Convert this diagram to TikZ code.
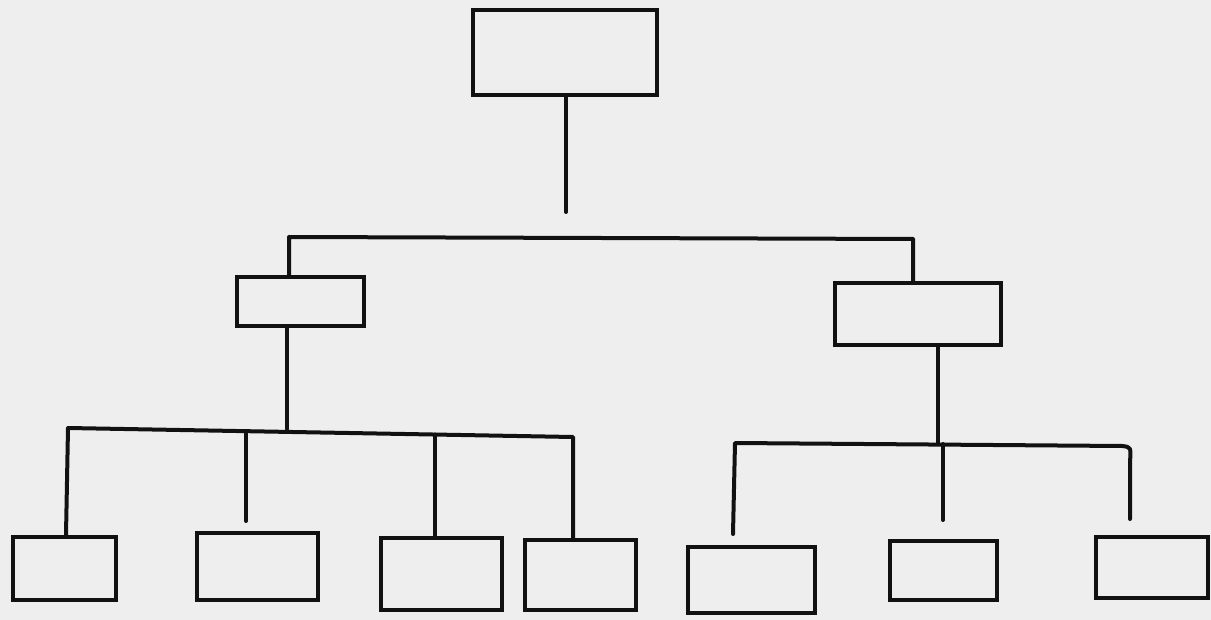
\documentclass[tikz,border=0pt]{standalone}
\usetikzlibrary{positioning}
\definecolor{paper}{HTML}{EEEEEE}
\definecolor{ink}{HTML}{111111}
\tikzset{
  card/.style  = {draw=ink, line width=2pt, fill=none, inner sep=0pt},
  wire/.style  = {draw=ink, line width=2pt, line cap=round, line join=round},
}
\begin{document}
\begin{tikzpicture}[x=0.5pt,y=-0.5pt]
  \fill[paper] (0,0) rectangle (1211,620);
  \useasboundingbox (0,0) rectangle (1211,620);
  % boxes
  \node[card,minimum width=92pt,minimum height=42.5pt] (top) at (565,52.5) {};
  \node[card,minimum width=63.5pt,minimum height=24.5pt] (midL) at (300.5,301.5) {};
  \node[card,minimum width=83pt,minimum height=31pt] (midR) at (918,314) {};
  \foreach \n/\cx/\cy/\w/\h in {l1/64.5/568.5/103/63, l2/257.5/566.5/121/67,
      l3/441.5/574/121/72, l4/580.5/575/111/70, r1/751.5/580/127/66,
      r2/943.5/570.5/107/59, r3/1152/567.5/112/61}{
    \node[card,minimum width=\w*0.5pt,minimum height=\h*0.5pt] (\n) at (\cx,\cy) {};}
  % junctions
  \coordinate (topEnd) at (566,212);
  \coordinate (barA) at (289,237);
  \coordinate (barB) at (913,239);
  \coordinate (midLj) at (287,429);
  \coordinate (midRj) at (938,443);
  % upper level
  \draw[wire] (top.south -| topEnd) -- (topEnd);
  \draw[wire] (midL.north -| barA) -- (barA) -- (barB) -- (midR.north -| barB);
  % left subtree
  \draw[wire] (midL.south -| midLj) -- (midLj);
  \draw[wire] (66,535) -- (68,428) -- (573,437) -- (573,539);
  \foreach \x/\y in {246/521, 435/536}{
    \draw[wire] (\x,{428+(\x-68)*9/505}) -- (\x,\y);}
  % right subtree
  \draw[wire] (midR.south -| midRj) -- (midRj);
  \draw[wire] (733,534) -- (735,443) -- (1122,446)
    .. controls (1131,447) .. (1130,462) -- (1130,519);
  \draw[wire] (943,444) -- (943,520);
\end{tikzpicture}
\end{document}
